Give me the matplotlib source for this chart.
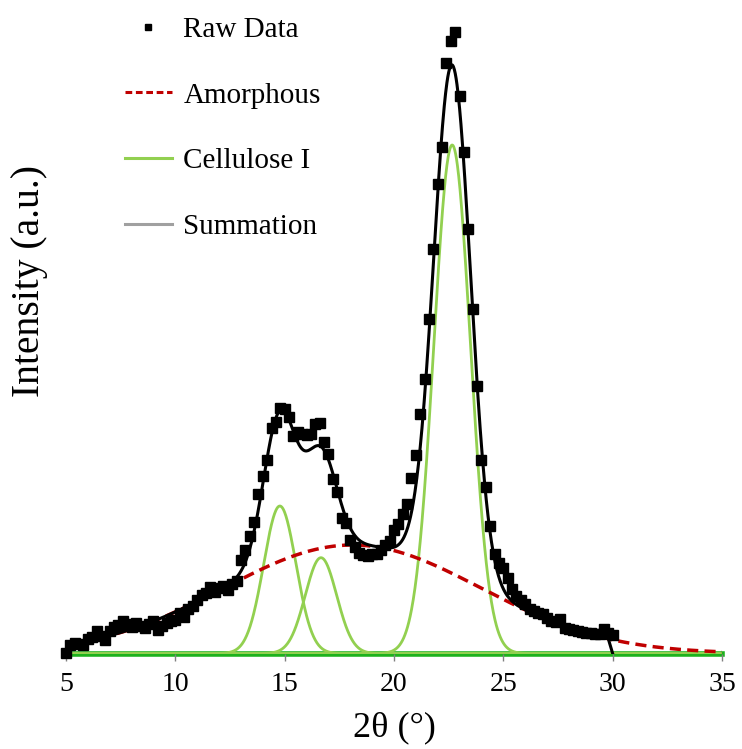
import numpy as np
import matplotlib
matplotlib.use("Agg")
import matplotlib.pyplot as plt
from matplotlib.lines import Line2D

plt.rcParams["font.family"] = ["Liberation Serif", "DejaVu Serif"]

# ─── data (intensity in arbitrary units) ────────────────────────────────────
TWO_THETA = np.round(np.arange(5.0, 30.01, 0.2), 1)
RAW = [
    1, 9, 11, 10, 9, 15, 17, 23, 18, 14, 23, 27, 29, 33, 30, 27, 31, 28, 26, 30, 33, 24, 28, 31, 33,
    34, 41, 37, 45, 48, 54, 59, 61, 67, 62, 66, 68, 64, 70, 73, 94, 104, 118, 132, 160, 178, 194, 226, 232, 246,
    245, 237, 218, 222, 220, 219, 220, 230, 231, 212, 200, 175, 162, 136, 131, 114, 107, 101, 99, 98, 100, 100, 104, 109, 113,
    124, 130, 140, 150, 176, 199, 240, 275, 335, 405, 470, 507, 591, 613, 622, 558, 502, 425, 345, 268, 194, 167, 128, 100, 91,
    86, 76, 65, 58, 54, 50, 45, 43, 41, 40, 36, 33, 32, 35, 26, 25, 24, 23, 22, 21, 21, 20, 20, 25, 21,
    19,
]

# fitted components (Gaussian): centre, height, sigma
AMORPH_CENTER, AMORPH_HEIGHT, AMORPH_SIGMA = 18.1, 108.5, 5.85
CELL_CENTERS = [14.78, 16.66, 22.66]
CELL_HEIGHTS = [147.5, 95.8, 508.5]
CELL_SIGMAS = [0.74, 0.72, 0.84]

SUM_END = (30.0, 0.0)   # summation trace closes at zero


def gauss(x, c, h, s):
    return h * np.exp(-(x - c) ** 2 / (2 * s ** 2))


x_full = np.linspace(5, 35, 1501)
amorph = gauss(x_full, AMORPH_CENTER, AMORPH_HEIGHT, AMORPH_SIGMA)
cells = [gauss(x_full, c, h, s) for c, h, s in zip(CELL_CENTERS, CELL_HEIGHTS, CELL_SIGMAS)]

x_sum = np.linspace(5, 29.8, 1241)
y_sum = gauss(x_sum, AMORPH_CENTER, AMORPH_HEIGHT, AMORPH_SIGMA)
for c, h, s in zip(CELL_CENTERS, CELL_HEIGHTS, CELL_SIGMAS):
    y_sum = y_sum + gauss(x_sum, c, h, s)
x_sum = np.append(x_sum, SUM_END[0])
y_sum = np.append(y_sum, SUM_END[1])

# ─── figure ─────────────────────────────────────────────────────────────────
fig = plt.figure(figsize=(7.42, 7.49), dpi=100)
ax = fig.add_axes([66 / 742, 1 - 653.5 / 749, 656 / 742, 643.5 / 749])

GREEN = "#92D050"
ax.axhline(0, color="#1CB21C", lw=4.0, zorder=1, clip_on=False)
for comp in cells:
    ax.plot(x_full, comp, color=GREEN, lw=2.0, zorder=2)
ax.plot(x_full, amorph, color="#C00000", lw=2.5, dashes=(3.2, 1.8), zorder=3)
ax.plot(x_sum, y_sum, color="black", lw=2.2, zorder=4)
ax.plot(TWO_THETA, RAW, "s", color="black", ms=6.5, zorder=5, clip_on=False)

ax.set_xlim(5, 35)
ax.set_ylim(0, 643.5)
ax.set_xticks(range(5, 36, 5))
ax.set_yticks([])
ax.tick_params(axis="x", labelsize=20, length=5, width=1, color="#808080", pad=8.5)
for side in ["top", "right", "left", "bottom"]:
    ax.spines[side].set_visible(False)

ax.set_xlabel("2θ (°)", fontsize=26, labelpad=10)
ax.set_ylabel("Intensity (a.u.)", fontsize=28.5)
ax.yaxis.set_label_coords(-0.028, 0.579)

handles = [
    Line2D([], [], ls="none", marker="s", color="black", ms=5),
    Line2D([], [], color="#C00000", lw=2.2, dashes=(2.2, 1.2)),
    Line2D([], [], color=GREEN, lw=2.2),
    Line2D([], [], color="#A0A0A0", lw=2.2),
]
labels = ["Raw Data", "Amorphous", "Cellulose I", "Summation"]
ax.legend(handles, labels, loc="upper left", bbox_to_anchor=(0.09, 0.99),
          frameon=False, fontsize=21, handlelength=1.6, handletextpad=0.4,
          labelspacing=1.35, borderpad=0, borderaxespad=0)

fig.savefig("out.png", dpi=100)
